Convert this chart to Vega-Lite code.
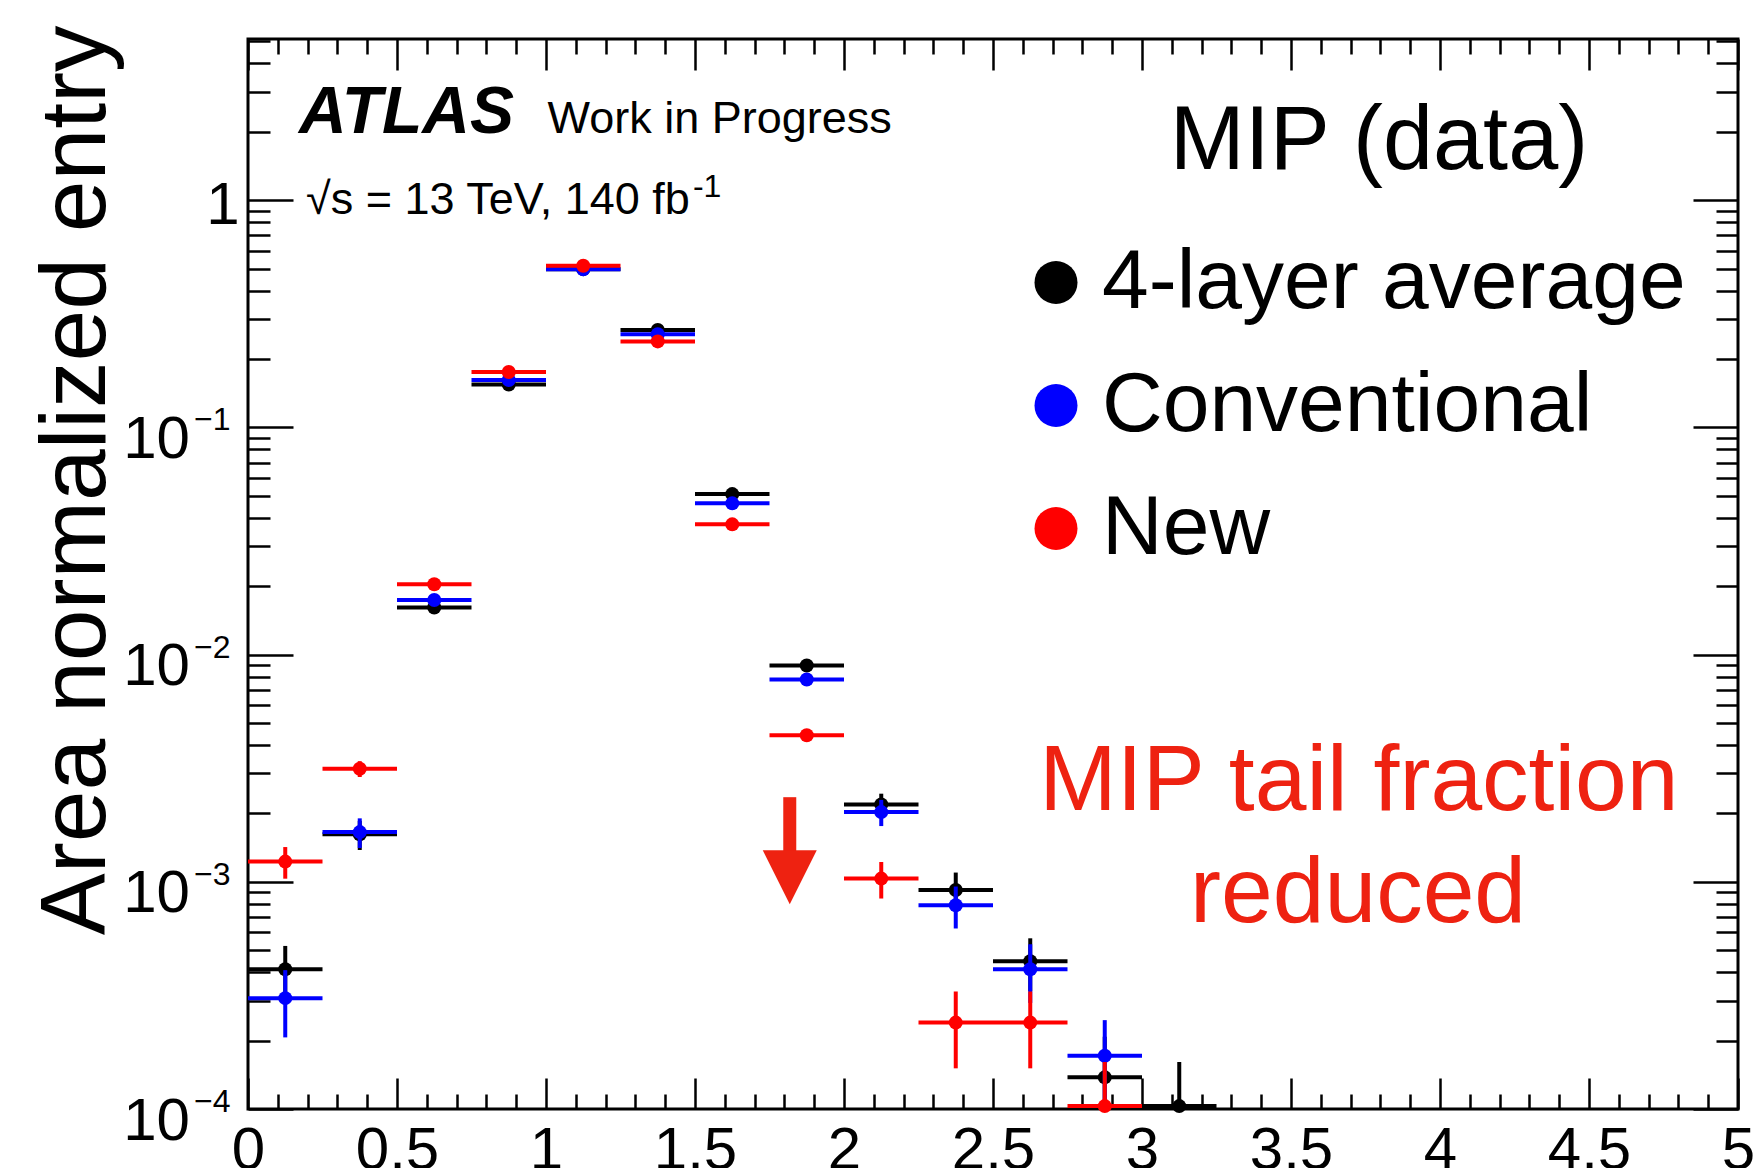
{
  "$schema": "https://vega.github.io/schema/vega-lite/v6.json",
  "width": 1490,
  "height": 1070,
  "autosize": {"type": "none"},
  "padding": {"left": 248, "top": 39, "right": 24, "bottom": 59},
  "background": "white",
  "config": {
    "view": {"stroke": "#000000", "strokeWidth": 3},
    "font": "Liberation Sans",
    "axis": {"domain": false, "grid": false, "tickColor": "#000000", "tickWidth": 2.5, "labelColor": "#000000", "labelFont": "Liberation Sans"},
    "text": {"font": "Liberation Sans"}
  },
  "datasets": {
    "bins": [
      {"s": "4-layer average", "x": 0.125, "xlo": 0.0, "xhi": 0.25, "y": 0.000412, "ylo": 0.000302, "yhi": 0.000522},
      {"s": "4-layer average", "x": 0.375, "xlo": 0.25, "xhi": 0.5, "y": 0.001617, "ylo": 0.00138, "yhi": 0.001854},
      {"s": "4-layer average", "x": 0.625, "xlo": 0.5, "xhi": 0.75, "y": 0.01611, "ylo": null, "yhi": null},
      {"s": "4-layer average", "x": 0.875, "xlo": 0.75, "xhi": 1.0, "y": 0.1544, "ylo": null, "yhi": null},
      {"s": "4-layer average", "x": 1.125, "xlo": 1.0, "xhi": 1.25, "y": 0.497, "ylo": null, "yhi": null},
      {"s": "4-layer average", "x": 1.375, "xlo": 1.25, "xhi": 1.5, "y": 0.2683, "ylo": null, "yhi": null},
      {"s": "4-layer average", "x": 1.625, "xlo": 1.5, "xhi": 1.75, "y": 0.05086, "ylo": null, "yhi": null},
      {"s": "4-layer average", "x": 1.875, "xlo": 1.75, "xhi": 2.0, "y": 0.008947, "ylo": null, "yhi": null},
      {"s": "4-layer average", "x": 2.125, "xlo": 2.0, "xhi": 2.25, "y": 0.002191, "ylo": 0.00194, "yhi": 0.002442},
      {"s": "4-layer average", "x": 2.375, "xlo": 2.25, "xhi": 2.5, "y": 0.00092, "ylo": 0.000742, "yhi": 0.001098},
      {"s": "4-layer average", "x": 2.625, "xlo": 2.5, "xhi": 2.75, "y": 0.000447, "ylo": 0.00033, "yhi": 0.000564},
      {"s": "4-layer average", "x": 2.875, "xlo": 2.75, "xhi": 3.0, "y": 0.0001378, "ylo": 0.000068, "yhi": 0.000208},
      {"s": "4-layer average", "x": 3.125, "xlo": 3.0, "xhi": 3.25, "y": 0.000103, "ylo": 0.000042, "yhi": 0.000161},
      {"s": "Conventional", "x": 0.125, "xlo": 0.0, "xhi": 0.25, "y": 0.0003075, "ylo": 0.0002066, "yhi": 0.0004084},
      {"s": "Conventional", "x": 0.375, "xlo": 0.25, "xhi": 0.5, "y": 0.001655, "ylo": 0.001408, "yhi": 0.001902},
      {"s": "Conventional", "x": 0.625, "xlo": 0.5, "xhi": 0.75, "y": 0.01738, "ylo": null, "yhi": null},
      {"s": "Conventional", "x": 0.875, "xlo": 0.75, "xhi": 1.0, "y": 0.1617, "ylo": null, "yhi": null},
      {"s": "Conventional", "x": 1.125, "xlo": 1.0, "xhi": 1.25, "y": 0.4959, "ylo": null, "yhi": null},
      {"s": "Conventional", "x": 1.375, "xlo": 1.25, "xhi": 1.5, "y": 0.2569, "ylo": null, "yhi": null},
      {"s": "Conventional", "x": 1.625, "xlo": 1.5, "xhi": 1.75, "y": 0.04629, "ylo": null, "yhi": null},
      {"s": "Conventional", "x": 1.875, "xlo": 1.75, "xhi": 2.0, "y": 0.007766, "ylo": null, "yhi": null},
      {"s": "Conventional", "x": 2.125, "xlo": 2.0, "xhi": 2.25, "y": 0.002026, "ylo": 0.001759, "yhi": 0.002293},
      {"s": "Conventional", "x": 2.375, "xlo": 2.25, "xhi": 2.5, "y": 0.000788, "ylo": 0.000623, "yhi": 0.000953},
      {"s": "Conventional", "x": 2.625, "xlo": 2.5, "xhi": 2.75, "y": 0.000412, "ylo": 0.000293, "yhi": 0.000531},
      {"s": "Conventional", "x": 2.875, "xlo": 2.75, "xhi": 3.0, "y": 0.0001715, "ylo": 0.000097, "yhi": 0.0002461},
      {"s": "New", "x": 0.125, "xlo": 0.0, "xhi": 0.25, "y": 0.001227, "ylo": 0.001032, "yhi": 0.001422},
      {"s": "New", "x": 0.375, "xlo": 0.25, "xhi": 0.5, "y": 0.003144, "ylo": 0.002892, "yhi": 0.003396},
      {"s": "New", "x": 0.625, "xlo": 0.5, "xhi": 0.75, "y": 0.02039, "ylo": null, "yhi": null},
      {"s": "New", "x": 0.875, "xlo": 0.75, "xhi": 1.0, "y": 0.1752, "ylo": null, "yhi": null},
      {"s": "New", "x": 1.125, "xlo": 1.0, "xhi": 1.25, "y": 0.5144, "ylo": null, "yhi": null},
      {"s": "New", "x": 1.375, "xlo": 1.25, "xhi": 1.5, "y": 0.239, "ylo": null, "yhi": null},
      {"s": "New", "x": 1.625, "xlo": 1.5, "xhi": 1.75, "y": 0.03742, "ylo": null, "yhi": null},
      {"s": "New", "x": 1.875, "xlo": 1.75, "xhi": 2.0, "y": 0.004418, "ylo": null, "yhi": null},
      {"s": "New", "x": 2.125, "xlo": 2.0, "xhi": 2.25, "y": 0.001033, "ylo": 0.000844, "yhi": 0.001222},
      {"s": "New", "x": 2.375, "xlo": 2.25, "xhi": 2.5, "y": 0.00024, "ylo": 0.000151, "yhi": 0.000329},
      {"s": "New", "x": 2.625, "xlo": 2.5, "xhi": 2.75, "y": 0.00024, "ylo": 0.000151, "yhi": 0.000329},
      {"s": "New", "x": 2.875, "xlo": 2.75, "xhi": 3.0, "y": 0.000103, "ylo": 0.000045, "yhi": 0.000161}
    ]
  },
  "resolve": {"axis": {"x": "independent", "y": "independent"}},
  "layer": [
    {
      "data": {"name": "bins"},
      "transform": [{"filter": "datum.s === '4-layer average'"}],
      "mark": {"type": "rule", "color": "#000000", "strokeWidth": 4},
      "encoding": {
        "x": {"field": "xlo", "type": "quantitative", "scale": {"domain": [0, 5], "nice": false, "zero": false},
          "axis": {"orient": "bottom", "title": null,
            "values": [0,0.1,0.2,0.3,0.4,0.5,0.6,0.7,0.8,0.9,1,1.1,1.2,1.3,1.4,1.5,1.6,1.7,1.8,1.9,2,2.1,2.2,2.3,2.4,2.5,2.6,2.7,2.8,2.9,3,3.1,3.2,3.3,3.4,3.5,3.6,3.7,3.8,3.9,4,4.1,4.2,4.3,4.4,4.5,4.6,4.7,4.8,4.9,5],
            "tickSize": {"condition": {"test": "abs(datum.value*2 - round(datum.value*2)) < 0.001", "value": -31}, "value": -15},
            "labelExpr": "abs(datum.value*2 - round(datum.value*2)) < 0.001 ? format(datum.value, '~g') : ''",
            "labelFontSize": 60, "labelPadding": 43, "labelFlush": false, "labelOverlap": false, "labelBound": false,
            "labelBaseline": "top", "labelAlign": "center"}},
        "x2": {"field": "xhi"},
        "y": {"field": "y", "type": "quantitative", "scale": {"type": "log", "domain": [0.0001, 5.12], "nice": false},
          "axis": {"orient": "left",
            "values": [0.0001,0.0002,0.0003,0.0004,0.0005,0.0006,0.0007,0.0008,0.0009,0.001,0.002,0.003,0.004,0.005,0.006,0.007,0.008,0.009,0.01,0.02,0.03,0.04,0.05,0.06,0.07,0.08,0.09,0.1,0.2,0.3,0.4,0.5,0.6,0.7,0.8,0.9,1,2,3,4,5],
            "tickSize": {"condition": {"test": "abs(log(datum.value)/LN10 - round(log(datum.value)/LN10)) < 0.001", "value": -45}, "value": -22},
            "labelExpr": "abs(log(datum.value)/LN10 - round(log(datum.value)/LN10)) < 0.001 ? (datum.value > 0.5 ? '1' : '10') : ''",
            "labelPadding": {"condition": {"test": "datum.value > 0.5 && datum.value < 1.5", "value": 54}, "value": 103.5},
            "labelOffset": {"condition": {"test": "datum.value > 0.5 && datum.value < 1.5", "value": 5.5}, "value": 12},
            "labelFontSize": 60, "labelAlign": "right", "labelBaseline": "middle", "labelOverlap": false, "labelBound": false, "labelFlush": false,
            "title": "Area normalized entry", "titleFont": "Liberation Sans", "titleFontSize": 93, "titleFontWeight": "normal",
            "titleColor": "#000000", "titleAnchor": "end", "titlePadding": -2, "titleY": -14}}
      }
    },
    {
      "data": {"name": "bins"},
      "transform": [{"filter": "datum.s === '4-layer average' && isValid(datum.ylo)"}],
      "mark": {"type": "rule", "color": "#000000", "strokeWidth": 4, "clip": true},
      "encoding": {
        "x": {"field": "x", "type": "quantitative", "scale": {"domain": [0, 5], "nice": false, "zero": false},
          "axis": {"orient": "top", "title": null, "labels": false,
            "values": [0,0.1,0.2,0.3,0.4,0.5,0.6,0.7,0.8,0.9,1,1.1,1.2,1.3,1.4,1.5,1.6,1.7,1.8,1.9,2,2.1,2.2,2.3,2.4,2.5,2.6,2.7,2.8,2.9,3,3.1,3.2,3.3,3.4,3.5,3.6,3.7,3.8,3.9,4,4.1,4.2,4.3,4.4,4.5,4.6,4.7,4.8,4.9,5],
            "tickSize": {"condition": {"test": "abs(datum.value*2 - round(datum.value*2)) < 0.001", "value": -31}, "value": -15}}},
        "y": {"field": "ylo", "type": "quantitative", "scale": {"type": "log", "domain": [0.0001, 5.12], "nice": false},
          "axis": {"orient": "right", "title": null, "labels": false,
            "values": [0.0001,0.0002,0.0003,0.0004,0.0005,0.0006,0.0007,0.0008,0.0009,0.001,0.002,0.003,0.004,0.005,0.006,0.007,0.008,0.009,0.01,0.02,0.03,0.04,0.05,0.06,0.07,0.08,0.09,0.1,0.2,0.3,0.4,0.5,0.6,0.7,0.8,0.9,1,2,3,4,5],
            "tickSize": {"condition": {"test": "abs(log(datum.value)/LN10 - round(log(datum.value)/LN10)) < 0.001", "value": -45}, "value": -22}}},
        "y2": {"field": "yhi"}
      }
    },
    {
      "data": {"name": "bins"},
      "transform": [{"filter": "datum.s === '4-layer average'"}],
      "mark": {"type": "point", "shape": "circle", "filled": true, "size": 196, "opacity": 1, "strokeWidth": 0},
      "encoding": {
        "x": {"field": "x", "type": "quantitative", "scale": {"domain": [0, 5], "nice": false, "zero": false}, "axis": null},
        "y": {"field": "y", "type": "quantitative", "scale": {"type": "log", "domain": [0.0001, 5.12], "nice": false}, "axis": null},
        "color": {"field": "s", "type": "nominal",
          "scale": {"domain": ["4-layer average", "Conventional", "New"], "range": ["#000000", "#0000FF", "#FF0000"]},
          "legend": {"orient": "none", "legendX": 766, "legendY": 201.5, "padding": 0, "title": null,
            "labelFont": "Liberation Sans", "labelFontSize": 84, "labelColor": "#000000", "labelOffset": 4, "labelLimit": 2000,
            "symbolType": "circle", "symbolSize": 1849, "symbolStrokeWidth": 0, "symbolOpacity": 1, "rowPadding": 39}}
      }
    },
    {
      "data": {"name": "bins"},
      "transform": [{"filter": "datum.s === 'Conventional'"}],
      "mark": {"type": "rule", "color": "#0000FF", "strokeWidth": 4},
      "encoding": {
        "x": {"field": "xlo", "type": "quantitative", "scale": {"domain": [0, 5], "nice": false, "zero": false}, "axis": null},
        "x2": {"field": "xhi"},
        "y": {"field": "y", "type": "quantitative", "scale": {"type": "log", "domain": [0.0001, 5.12], "nice": false}, "axis": null}
      }
    },
    {
      "data": {"name": "bins"},
      "transform": [{"filter": "datum.s === 'Conventional' && isValid(datum.ylo)"}],
      "mark": {"type": "rule", "color": "#0000FF", "strokeWidth": 4, "clip": true},
      "encoding": {
        "x": {"field": "x", "type": "quantitative", "scale": {"domain": [0, 5], "nice": false, "zero": false}, "axis": null},
        "y": {"field": "ylo", "type": "quantitative", "scale": {"type": "log", "domain": [0.0001, 5.12], "nice": false}, "axis": null},
        "y2": {"field": "yhi"}
      }
    },
    {
      "data": {"name": "bins"},
      "transform": [{"filter": "datum.s === 'Conventional'"}],
      "mark": {"type": "point", "shape": "circle", "filled": true, "size": 196, "opacity": 1, "strokeWidth": 0},
      "encoding": {
        "x": {"field": "x", "type": "quantitative", "scale": {"domain": [0, 5], "nice": false, "zero": false}, "axis": null},
        "y": {"field": "y", "type": "quantitative", "scale": {"type": "log", "domain": [0.0001, 5.12], "nice": false}, "axis": null},
        "color": {"field": "s", "type": "nominal",
          "scale": {"domain": ["4-layer average", "Conventional", "New"], "range": ["#000000", "#0000FF", "#FF0000"]},
          "legend": {"orient": "none", "legendX": 766, "legendY": 201.5, "padding": 0, "title": null,
            "labelFont": "Liberation Sans", "labelFontSize": 84, "labelColor": "#000000", "labelOffset": 4, "labelLimit": 2000,
            "symbolType": "circle", "symbolSize": 1849, "symbolStrokeWidth": 0, "symbolOpacity": 1, "rowPadding": 39}}
      }
    },
    {
      "data": {"name": "bins"},
      "transform": [{"filter": "datum.s === 'New'"}],
      "mark": {"type": "rule", "color": "#FF0000", "strokeWidth": 4},
      "encoding": {
        "x": {"field": "xlo", "type": "quantitative", "scale": {"domain": [0, 5], "nice": false, "zero": false}, "axis": null},
        "x2": {"field": "xhi"},
        "y": {"field": "y", "type": "quantitative", "scale": {"type": "log", "domain": [0.0001, 5.12], "nice": false}, "axis": null}
      }
    },
    {
      "data": {"name": "bins"},
      "transform": [{"filter": "datum.s === 'New' && isValid(datum.ylo)"}],
      "mark": {"type": "rule", "color": "#FF0000", "strokeWidth": 4, "clip": true},
      "encoding": {
        "x": {"field": "x", "type": "quantitative", "scale": {"domain": [0, 5], "nice": false, "zero": false}, "axis": null},
        "y": {"field": "ylo", "type": "quantitative", "scale": {"type": "log", "domain": [0.0001, 5.12], "nice": false}, "axis": null},
        "y2": {"field": "yhi"}
      }
    },
    {
      "data": {"name": "bins"},
      "transform": [{"filter": "datum.s === 'New'"}],
      "mark": {"type": "point", "shape": "circle", "filled": true, "size": 196, "opacity": 1, "strokeWidth": 0},
      "encoding": {
        "x": {"field": "x", "type": "quantitative", "scale": {"domain": [0, 5], "nice": false, "zero": false}, "axis": null},
        "y": {"field": "y", "type": "quantitative", "scale": {"type": "log", "domain": [0.0001, 5.12], "nice": false}, "axis": null},
        "color": {"field": "s", "type": "nominal",
          "scale": {"domain": ["4-layer average", "Conventional", "New"], "range": ["#000000", "#0000FF", "#FF0000"]},
          "legend": {"orient": "none", "legendX": 766, "legendY": 201.5, "padding": 0, "title": null,
            "labelFont": "Liberation Sans", "labelFontSize": 84, "labelColor": "#000000", "labelOffset": 4, "labelLimit": 2000,
            "symbolType": "circle", "symbolSize": 1849, "symbolStrokeWidth": 0, "symbolOpacity": 1, "rowPadding": 39}}
      }
    },
    {
      "data": {"values": [{"x": 1.818, "ytop": 0.002357, "ybot": 0.001245}]},
      "mark": {"type": "rule", "color": "#EE2211", "strokeWidth": 13, "strokeCap": "butt"},
      "encoding": {
        "x": {"field": "x", "type": "quantitative", "scale": {"domain": [0, 5], "nice": false, "zero": false}, "axis": null},
        "y": {"field": "ytop", "type": "quantitative", "scale": {"type": "log", "domain": [0.0001, 5.12], "nice": false}, "axis": null},
        "y2": {"field": "ybot"}
      }
    },
    {
      "data": {"values": [{"x": 1.818, "y": 0.001047}]},
      "mark": {"type": "point", "shape": "M-1,-1L1,-1L0,1Z", "filled": true, "size": 2916, "color": "#EE2211", "opacity": 1, "strokeWidth": 0},
      "encoding": {
        "x": {"field": "x", "type": "quantitative", "scale": {"domain": [0, 5], "nice": false, "zero": false}, "axis": null},
        "y": {"field": "y", "type": "quantitative", "scale": {"type": "log", "domain": [0.0001, 5.12], "nice": false}, "axis": null}
      }
    },
    {
      "data": {"values": [
        {"t": "−1", "x": -0.0587, "y": 0.1},
        {"t": "−2", "x": -0.0587, "y": 0.01},
        {"t": "−3", "x": -0.0587, "y": 0.001},
        {"t": "−4", "x": -0.0587, "y": 0.0001}
      ]},
      "mark": {"type": "text", "fontSize": 32, "align": "right", "baseline": "middle", "dy": -7, "color": "#000000"},
      "encoding": {
        "x": {"field": "x", "type": "quantitative", "scale": {"domain": [0, 5], "nice": false, "zero": false}, "axis": null},
        "y": {"field": "y", "type": "quantitative", "scale": {"type": "log", "domain": [0.0001, 5.12], "nice": false}, "axis": null},
        "text": {"field": "t"}
      }
    },
    {
      "data": {"values": [{"t": "ATLAS", "x": 0.171, "y": 1.978}]},
      "mark": {"type": "text", "fontSize": 66, "fontWeight": "bold", "fontStyle": "italic", "align": "left", "baseline": "alphabetic", "color": "#000000"},
      "encoding": {
        "x": {"field": "x", "type": "quantitative", "scale": {"domain": [0, 5], "nice": false, "zero": false}, "axis": null},
        "y": {"field": "y", "type": "quantitative", "scale": {"type": "log", "domain": [0.0001, 5.12], "nice": false}, "axis": null},
        "text": {"field": "t"}
      }
    },
    {
      "data": {"values": [
        {"t": "Work in Progress", "x": 1.005, "y": 1.978},
        {"t": "√s = 13 TeV, 140 fb", "x": 0.195, "y": 0.872}
      ]},
      "mark": {"type": "text", "fontSize": 45, "align": "left", "baseline": "alphabetic", "color": "#000000"},
      "encoding": {
        "x": {"field": "x", "type": "quantitative", "scale": {"domain": [0, 5], "nice": false, "zero": false}, "axis": null},
        "y": {"field": "y", "type": "quantitative", "scale": {"type": "log", "domain": [0.0001, 5.12], "nice": false}, "axis": null},
        "text": {"field": "t"}
      }
    },
    {
      "data": {"values": [{"t": "-1", "x": 1.493, "y": 1.033}]},
      "mark": {"type": "text", "fontSize": 32, "align": "left", "baseline": "alphabetic", "color": "#000000"},
      "encoding": {
        "x": {"field": "x", "type": "quantitative", "scale": {"domain": [0, 5], "nice": false, "zero": false}, "axis": null},
        "y": {"field": "y", "type": "quantitative", "scale": {"type": "log", "domain": [0.0001, 5.12], "nice": false}, "axis": null},
        "text": {"field": "t"}
      }
    },
    {
      "data": {"values": [{"t": "MIP (data)", "x": 3.795, "y": 1.372}]},
      "mark": {"type": "text", "fontSize": 90, "align": "center", "baseline": "alphabetic", "color": "#000000"},
      "encoding": {
        "x": {"field": "x", "type": "quantitative", "scale": {"domain": [0, 5], "nice": false, "zero": false}, "axis": null},
        "y": {"field": "y", "type": "quantitative", "scale": {"type": "log", "domain": [0.0001, 5.12], "nice": false}, "axis": null},
        "text": {"field": "t"}
      }
    },
    {
      "data": {"values": [
        {"t": "MIP tail fraction", "x": 3.728, "y": 0.002066},
        {"t": "reduced", "x": 3.725, "y": 0.000664}
      ]},
      "mark": {"type": "text", "fontSize": 93, "align": "center", "baseline": "alphabetic", "color": "#EE2211"},
      "encoding": {
        "x": {"field": "x", "type": "quantitative", "scale": {"domain": [0, 5], "nice": false, "zero": false}, "axis": null},
        "y": {"field": "y", "type": "quantitative", "scale": {"type": "log", "domain": [0.0001, 5.12], "nice": false}, "axis": null},
        "text": {"field": "t"}
      }
    }
  ]
}
